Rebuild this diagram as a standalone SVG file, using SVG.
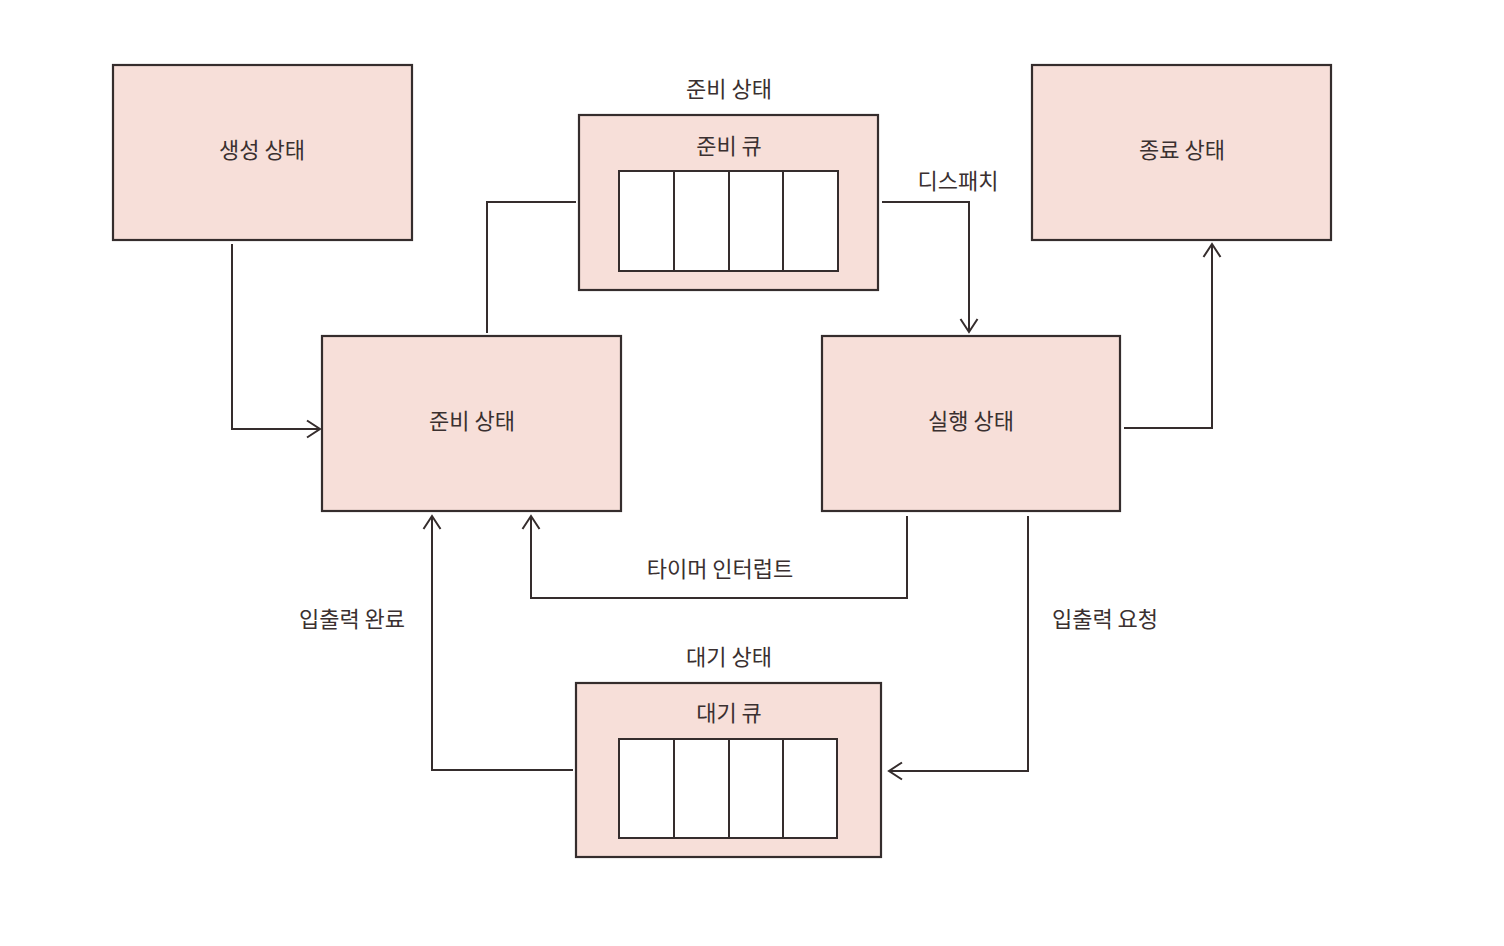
<svg xmlns="http://www.w3.org/2000/svg" width="1504" height="946" viewBox="0 0 1504 946">
<defs>
<style>
.box{fill:#f7dfd9;stroke:#352d2d;stroke-width:2.2}
.q{fill:#ffffff;stroke:#352d2d;stroke-width:2}
.qd{stroke:#352d2d;stroke-width:2}
.t{font-family:"Noto Sans CJK KR","Noto Sans",sans-serif;font-size:22px;fill:#3a3030;text-anchor:middle;dominant-baseline:central}
.c{fill:none;stroke:#352d2d;stroke-width:2}
</style>
<marker id="ah" viewBox="0 0 20 20" refX="18" refY="10" markerWidth="20" markerHeight="20" markerUnits="userSpaceOnUse" orient="auto">
<path d="M5,1.5 L18,10 L5,18.5" fill="none" stroke="#352d2d" stroke-width="2"/>
</marker>
</defs>
<rect width="1504" height="946" fill="#ffffff"/>
<g id="created">
<rect class="box" x="113" y="65" width="299" height="175"/>
<text class="t" x="262" y="148">생성 상태</text>
</g>
<g id="ready-queue">
<text class="t" x="729" y="87">준비 상태</text>
<rect class="box" x="579" y="115" width="299" height="175"/>
<text class="t" x="729" y="144">준비 큐</text>
<rect class="q" x="619" y="171" width="219" height="100"/>
<line class="qd" x1="674" y1="171" x2="674" y2="271"/>
<line class="qd" x1="729" y1="171" x2="729" y2="271"/>
<line class="qd" x1="783" y1="171" x2="783" y2="271"/>
</g>
<g id="terminated">
<rect class="box" x="1032" y="65" width="299" height="175"/>
<text class="t" x="1182" y="148">종료 상태</text>
</g>
<g id="ready">
<rect class="box" x="322" y="336" width="299" height="175"/>
<text class="t" x="472" y="419">준비 상태</text>
</g>
<g id="running">
<rect class="box" x="822" y="336" width="298" height="175"/>
<text class="t" x="971" y="419">실행 상태</text>
</g>
<g id="wait-queue">
<text class="t" x="729" y="655">대기 상태</text>
<rect class="box" x="576" y="683" width="305" height="174"/>
<text class="t" x="729" y="711">대기 큐</text>
<rect class="q" x="619" y="739" width="218" height="99"/>
<line class="qd" x1="674" y1="739" x2="674" y2="838"/>
<line class="qd" x1="729" y1="739" x2="729" y2="838"/>
<line class="qd" x1="783" y1="739" x2="783" y2="838"/>
</g>
<g id="connectors">
<polyline class="c" points="232,244 232,429 320,429" marker-end="url(#ah)"/>
<polyline class="c" points="487,333 487,202 576,202"/>
<polyline class="c" points="882,202 969,202 969,332" marker-end="url(#ah)"/>
<polyline class="c" points="1124,428 1212,428 1212,244" marker-end="url(#ah)"/>
<polyline class="c" points="907,516 907,598 531,598 531,516" marker-end="url(#ah)"/>
<polyline class="c" points="1028,516 1028,771 889,771" marker-end="url(#ah)"/>
<polyline class="c" points="573,770 432,770 432,516" marker-end="url(#ah)"/>
<text class="t" x="958" y="179">디스패치</text>
<text class="t" x="720" y="567">타이머 인터럽트</text>
<text class="t" x="1105" y="617">입출력 요청</text>
<text class="t" x="352" y="617">입출력 완료</text>
</g>
</svg>
